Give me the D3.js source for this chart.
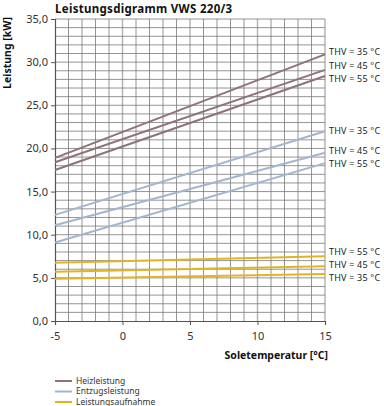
<!DOCTYPE html>
<html>
<head>
<meta charset="utf-8">
<script src="https://cdn.jsdelivr.net/npm/d3@7"></script>
<style>
  body { margin: 0; background: #fff; }
  text { font-family: "Noto Sans", "DejaVu Sans", sans-serif; }
</style>
</head>
<body>
<div id="chart"></div>
<script>
// soletemperatur at both ends of each line
const xVals = [-5, 15];
const yTicks = [0, 5, 10, 15, 20, 25, 30, 35];
const xTicks = [-5, 0, 5, 10, 15];

// Heizleistung
const heiz35 = [18.9, 30.9];
const heiz45 = [18.4, 29.1];
const heiz55 = [17.5, 28.4];
// Entzugsleistung
const entz35 = [12.3, 22.0];
const entz45 = [11.1, 19.5];
const entz55 = [9.1, 18.3];
// Leistungsaufnahme
const auf55 = [6.75, 7.5];
const auf45 = [5.7, 6.35];
const auf35 = [4.9, 5.45];

const series = [
  { vals: heiz35, color: '#8e7378', label: 'THV = 35 °C', ly: 31.15 },
  { vals: heiz45, color: '#8e7378', label: 'THV = 45 °C', ly: 29.6 },
  { vals: heiz55, color: '#8e7378', label: 'THV = 55 °C', ly: 28.1 },
  { vals: entz35, color: '#a2b6cf', label: 'THV = 35 °C', ly: 22.0 },
  { vals: entz45, color: '#a2b6cf', label: 'THV = 45 °C', ly: 19.7 },
  { vals: entz55, color: '#a2b6cf', label: 'THV = 55 °C', ly: 18.2 },
  { vals: auf55, color: '#e2b423', label: 'THV = 55 °C', ly: 8.0 },
  { vals: auf45, color: '#e2b423', label: 'THV = 45 °C', ly: 6.5 },
  { vals: auf35, color: '#e2b423', label: 'THV = 35 °C', ly: 5.0 }
];

const legendItems = [
  { name: 'Heizleistung', color: '#8e7378' },
  { name: 'Entzugsleistung', color: '#a2b6cf' },
  { name: 'Leistungsaufnahme', color: '#e2b423' }
];

const svgWidth = 384, svgHeight = 406;
const margin = { top: 19, left: 55, right: 59, bottom: 85 };
const width = svgWidth - margin.left - margin.right;
const height = svgHeight - margin.top - margin.bottom;

const svg = d3.select('#chart').append('svg')
  .attr('width', svgWidth)
  .attr('height', svgHeight);

const g = svg.append('g')
  .attr('transform', `translate(${margin.left},${margin.top})`);

const xScale = d3.scaleLinear().domain([-5, 15]).range([0, width]);
const yScale = d3.scaleLinear().domain([0, 35]).range([height, 0]);

// grid every unit
g.append('g').selectAll('line')
  .data(d3.range(-4, 16))
  .enter().append('line')
  .attr('x1', d => xScale(d)).attr('x2', d => xScale(d))
  .attr('y1', 0).attr('y2', height)
  .attr('stroke', d => d % 5 === 0 ? '#b0b0b0' : '#7a7a7a')
  .attr('stroke-width', d => d % 5 === 0 ? 1.4 : 0.8);

g.append('g').selectAll('line')
  .data(d3.range(1, 36))
  .enter().append('line')
  .attr('x1', 0).attr('x2', width)
  .attr('y1', d => yScale(d)).attr('y2', d => yScale(d))
  .attr('stroke', '#7a7a7a')
  .attr('stroke-width', 0.8);

// axes
const xAxis = d3.axisBottom(xScale).tickValues(xTicks).tickSize(4).tickPadding(7)
  .tickFormat(d => String(d));
const yAxis = d3.axisLeft(yScale).tickValues(yTicks).tickSize(4).tickPadding(3)
  .tickFormat(d => d3.format('.1f')(d).replace('.', ','));

const gx = g.append('g')
  .attr('transform', `translate(0,${height})`)
  .call(xAxis);
const gy = g.append('g').call(yAxis);

[gx, gy].forEach(a => {
  a.select('.domain').attr('stroke', '#555').attr('stroke-width', 1.2);
  a.selectAll('.tick line').attr('stroke', '#555');
  a.selectAll('.tick text')
    .attr('fill', '#333')
    .style('font-size', '11px');
});

// curves
const line = d3.line()
  .x((d, i) => xScale(xVals[i]))
  .y(d => yScale(d));

g.selectAll('.curve')
  .data(series)
  .enter().append('path')
  .attr('class', 'curve')
  .attr('d', d => line(d.vals))
  .attr('fill', 'none')
  .attr('stroke', d => d.color)
  .attr('stroke-width', 2);

// THV labels
g.selectAll('.thv')
  .data(series)
  .enter().append('text')
  .attr('class', 'thv')
  .attr('x', width + 4)
  .attr('y', d => yScale(d.ly))
  .attr('dy', '0.35em')
  .attr('fill', '#222')
  .style('font-size', '9px')
  .style('letter-spacing', '0.2px')
  .text(d => d.label);

// titles
svg.append('text')
  .attr('x', 55)
  .attr('y', 13)
  .style('font-size', '11.5px')
  .style('font-weight', 'bold')
  .style('letter-spacing', '0.3px')
  .attr('fill', '#111')
  .text('Leistungsdigramm VWS 220/3');

svg.append('text')
  .attr('transform', `translate(11,${margin.top + 34}) rotate(-90)`)
  .attr('text-anchor', 'middle')
  .style('font-size', '10.5px')
  .style('font-weight', 'bold')
  .attr('fill', '#111')
  .text('Leistung [kW]');

svg.append('text')
  .attr('x', margin.left + width + 3)
  .attr('y', 359)
  .attr('text-anchor', 'end')
  .style('font-size', '10.5px')
  .style('font-weight', 'bold')
  .attr('fill', '#111')
  .text('Soletemperatur [°C]');

// legend
const legend = svg.append('g').attr('transform', 'translate(55,381)');
legendItems.forEach((item, i) => {
  legend.append('line')
    .attr('x1', 0).attr('x2', 17)
    .attr('y1', i * 10.5).attr('y2', i * 10.5)
    .attr('stroke', item.color)
    .attr('stroke-width', 2);
  legend.append('text')
    .attr('x', 21)
    .attr('y', i * 10.5)
    .attr('dy', '0.35em')
    .style('font-size', '8.5px')
    .attr('fill', '#333')
    .text(item.name);
});
</script>
</body>
</html>
